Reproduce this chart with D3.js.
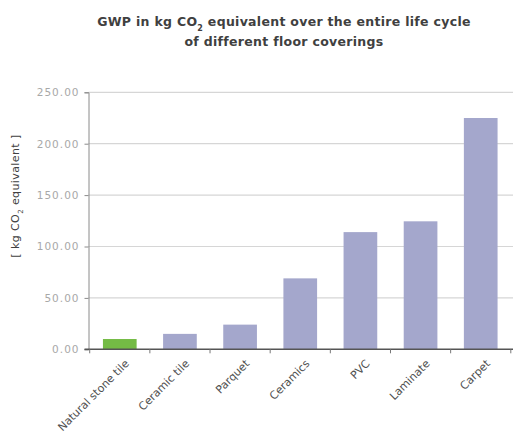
<!DOCTYPE html>
<html>
<head>
<meta charset="utf-8">
<script src="https://cdn.jsdelivr.net/npm/d3@7"></script>
<style>
  html, body { margin: 0; padding: 0; background: #fff; }
  svg { display: block; }
</style>
</head>
<body>
<svg id="chart" width="513" height="442"></svg>
<script>
// Floor coverings and their global warming potential over the whole life cycle
const categories = ["Natural stone tile", "Ceramic tile", "Parquet", "Ceramics", "PVC", "Laminate", "Carpet"];
const gwpValues = [10, 15, 24, 69, 114, 124.5, 225];
const yTicks = [0, 50, 100, 150, 200, 250];
const highlighted = ["Natural stone tile"];

const svg = d3.select("#chart");
const plotLeft = 88.5, plotRight = 512, plotTop = 92.3, plotBottom = 349.3;
const fontMain = "'DejaVu Sans', 'Noto Sans', sans-serif";

const x = d3.scaleBand()
  .domain(categories)
  .range([plotLeft, plotRight])
  .paddingInner(0.44)
  .paddingOuter(0.24);

const y = d3.scaleLinear()
  .domain([0, 250])
  .range([plotBottom, plotTop]);

// Title
const titleStyle = sel => sel
  .attr("text-anchor", "middle")
  .style("font-family", fontMain)
  .style("font-weight", "700")
  .style("font-size", "12.5px")
  .style("letter-spacing", "0.3px")
  .style("fill", "#404040");
const title = svg.append("text").attr("x", 284).attr("y", 26).call(titleStyle);
title.append("tspan").text("GWP in kg CO");
title.append("tspan").attr("baseline-shift", "sub").style("font-size", "8px").text("2");
title.append("tspan").text(" equivalent over the entire life cycle");
svg.append("text").attr("x", 284).attr("y", 46).call(titleStyle)
  .text("of different floor coverings");

// Horizontal gridlines
svg.append("g")
  .selectAll("line")
  .data(yTicks.filter(d => d > 0))
  .join("line")
  .attr("x1", plotLeft)
  .attr("x2", 513)
  .attr("y1", d => y(d))
  .attr("y2", d => y(d))
  .attr("stroke", "#d6d6d6")
  .attr("stroke-width", 1.2);

// Bars
svg.append("g")
  .selectAll("rect")
  .data(categories.map((c, i) => ({ c, v: gwpValues[i] })))
  .join("rect")
  .attr("x", d => x(d.c))
  .attr("y", d => y(d.v))
  .attr("width", x.bandwidth())
  .attr("height", d => y(0) - y(d.v))
  .attr("fill", d => highlighted.includes(d.c) ? "#74bb45" : "#a4a7cc");

// Y axis
const yAxis = d3.axisLeft(y)
  .tickValues(yTicks)
  .tickSize(4)
  .tickPadding(5)
  .tickFormat(d3.format(".2f"));
const gy = svg.append("g")
  .attr("transform", `translate(${plotLeft},0)`)
  .call(yAxis);
gy.select(".domain").attr("stroke", "#8a8a8a");
gy.selectAll(".tick line").attr("stroke", "#8a8a8a");
gy.selectAll(".tick text")
  .style("font-family", fontMain)
  .style("font-size", "10.5px")
  .style("letter-spacing", "1px")
  .style("fill", "#a8a8a8");

// X axis baseline with ticks at category boundaries
svg.append("line")
  .attr("x1", plotLeft - 4)
  .attr("x2", 513)
  .attr("y1", plotBottom)
  .attr("y2", plotBottom)
  .attr("stroke", "#555")
  .attr("stroke-width", 1.5);
const step = x.step();
const boundaries = d3.range(categories.length + 1).map(i => x(categories[0]) - x.paddingInner() * step / 2 + i * step);
svg.append("g")
  .selectAll("line")
  .data(boundaries)
  .join("line")
  .attr("x1", d => d)
  .attr("x2", d => d)
  .attr("y1", plotBottom)
  .attr("y2", plotBottom + 4)
  .attr("stroke", "#777");

// Category labels, rotated
svg.append("g")
  .selectAll("text")
  .data(categories)
  .join("text")
  .attr("transform", d => `translate(${x(d) + x.bandwidth() / 2 + 10},${plotBottom + 15}) rotate(-45)`)
  .attr("text-anchor", "end")
  .style("font-family", fontMain)
  .style("font-size", "11px")
  .style("fill", "#505050")
  .text(d => d);

// Y axis title
const yt = svg.append("text")
  .attr("transform", "translate(19,196) rotate(-90)")
  .attr("text-anchor", "middle")
  .style("font-family", fontMain)
  .style("font-size", "11px")
  .style("letter-spacing", "0.4px")
  .style("fill", "#404040");
yt.append("tspan").text("[ kg CO");
yt.append("tspan").attr("baseline-shift", "sub").style("font-size", "7px").text("2");
yt.append("tspan").text(" equivalent ]");
</script>
</body>
</html>
